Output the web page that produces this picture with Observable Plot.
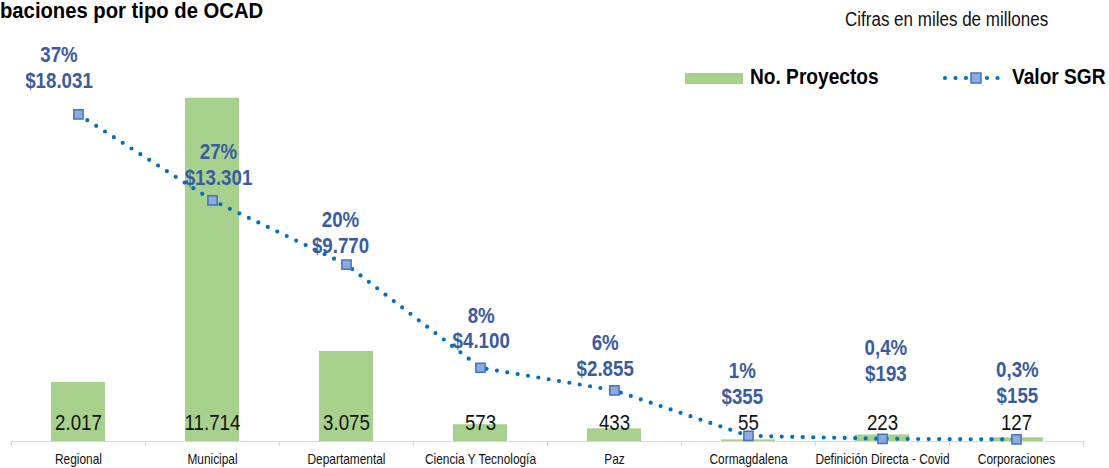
<!DOCTYPE html>
<html><head><meta charset="utf-8">
<script src="https://cdn.jsdelivr.net/npm/d3@7"></script>
<script src="https://cdn.jsdelivr.net/npm/@observablehq/plot@0.6"></script>
<style>
body{margin:0;background:#fff;}
#wrap{position:relative;width:1109px;height:468px;overflow:hidden;font-family:"Liberation Sans Narrow","Arial Narrow","Liberation Sans",Arial,sans-serif;}
.abs{position:absolute;white-space:nowrap;line-height:1;transform-origin:left top;}
.nar{transform:scaleX(0.85);}
</style></head><body>
<div id="wrap">
  <div id="chart"></div>
  <div class="abs" style="left:0px;top:0px;font-size:22px;font-weight:bold;color:#000;transform:scaleX(0.92)">baciones por tipo de OCAD</div>
  <div class="abs nar" style="left:845px;top:9px;font-size:20px;color:#111">Cifras en miles de millones</div>
  <div class="abs" style="left:685px;top:73px;width:58px;height:11px;background:#A9D18E"></div>
  <div class="abs nar" style="left:750px;top:66px;font-size:22.5px;font-weight:bold;color:#000">No. Proyectos</div>
  <svg class="abs" style="left:940px;top:70px" width="70" height="16">
    <line x1="5" y1="8" x2="62" y2="8" stroke="#0070C0" stroke-width="4.2" stroke-dasharray="0 10.5" stroke-linecap="round"/>
    <rect x="31" y="3" width="10" height="10" fill="#8FAADC" stroke="#4472C4" stroke-width="1.5"/>
  </svg>
  <div class="abs nar" style="left:1012px;top:66px;font-size:22.5px;font-weight:bold;color:#000">Valor SGR</div>
</div>
<script>
const categories = ["Regional","Municipal","Departamental","Ciencia Y Tecnología","Paz","Cormagdalena","Definición Directa - Covid","Corporaciones"];
const proyectos = [2017, 11714, 3075, 573, 433, 55, 223, 127];
const valorSGR = [18031, 13301, 9770, 4100, 2855, 355, 193, 155];
const porcentajes = ["37%","27%","20%","8%","6%","1%","0,4%","0,3%"];

const loc = d3.formatLocale({decimal: ",", thousands: ".", grouping: [3], currency: ["$", ""]});
const fmt = loc.format(",d");
const rows = categories.map((c, i) => ({cat: c, proy: proyectos[i], valor: valorSGR[i], pct: porcentajes[i]}));

// label nudges (pixels) relative to each point of the line, as drawn in the reference
const nudgeX = [-19.5, 6, -6, 0.7, -9.3, -6.2, 3.4, 0.9];
const nudgeY = [-47.5, -36.7, -32.8, -40.3, -35.8, -53.2, -79.1, -57.8];

const W = 1109, H = 468;
const font = '"Liberation Sans Narrow","Arial Narrow","Liberation Sans",Arial,sans-serif';
const xScale = {domain: categories, paddingInner: 0.6, paddingOuter: 0.3, axis: null};
const step = (W - 10 - 25) / categories.length;

const bars = Plot.plot({
  width: W, height: H, marginTop: 0, marginBottom: 27, marginLeft: 10, marginRight: 25,
  style: {position: "absolute", left: "0px", top: "0px", fontFamily: font, background: "transparent", maxWidth: "none"},
  x: xScale,
  y: {domain: [0, 15048], axis: null},
  marks: [
    Plot.barY(rows, {x: "cat", y: "proy", fill: "#A9D18E"}),
    Plot.ruleY([0], {stroke: "#D9D9D9", strokeWidth: 1.2}),
    Plot.ruleX(rows, {x: "cat", y1: 0, y2: 0, dx: -step / 2, insetBottom: -5, stroke: "#D9D9D9", strokeWidth: 1.2}),
    Plot.ruleX(rows.slice(-1), {x: "cat", y1: 0, y2: 0, dx: step / 2, insetBottom: -5, stroke: "#D9D9D9", strokeWidth: 1.2}),
    Plot.text(rows, {x: "cat", text: d => fmt(d.proy), frameAnchor: "bottom", dy: -19, fontSize: 22, fill: "#111", lineAnchor: "middle"}),
    Plot.text(rows, {x: "cat", text: "cat", frameAnchor: "bottom", dy: 12.5, lineAnchor: "top", fontSize: 14, fill: "#111"})
  ]
});

const lineMarks = [
  Plot.line(rows, {x: "cat", y: "valor", stroke: "#0070C0", strokeWidth: 4.2, strokeDasharray: "0 10.5", strokeLinecap: "round"}),
  Plot.dot(rows, {x: "cat", y: "valor", symbol: "square", r: 5.2, fill: "#8FAADC", stroke: "#4472C4", strokeWidth: 1.5})
];
rows.forEach((d, i) => {
  lineMarks.push(Plot.text([d], {x: "cat", y: "valor", text: r => r.pct + "\n" + "$" + fmt(r.valor),
    dx: nudgeX[i], dy: nudgeY[i], fontSize: 22, fontWeight: "bold", fill: "#3A5C9E", lineHeight: 1.16, lineAnchor: "middle"}));
});

const line = Plot.plot({
  width: W, height: H, marginTop: 0, marginBottom: 26.2, marginLeft: 10, marginRight: 25,
  style: {position: "absolute", left: "0px", top: "0px", fontFamily: font, background: "transparent", maxWidth: "none", overflow: "visible"},
  x: xScale,
  y: {domain: [0, 24300], axis: null},
  marks: lineMarks
});

// condensed look of the reference's narrow typeface
function narrow(svg, k) {
  svg.querySelectorAll("text").forEach(t => {
    const tr = t.getAttribute("transform");
    if (tr && tr.includes("translate")) {
      t.setAttribute("transform", tr + ` scale(${k},1)`);
    } else {
      const x = +t.getAttribute("x") || 0, y = +t.getAttribute("y") || 0;
      t.setAttribute("x", 0); t.setAttribute("y", 0);
      t.setAttribute("transform", `translate(${x},${y}) ${tr || ""} scale(${k},1)`);
    }
  });
}
narrow(bars, 0.85);
narrow(line, 0.85);

const chart = document.getElementById("chart");
chart.appendChild(bars);
chart.appendChild(line);
</script>
</body></html>
